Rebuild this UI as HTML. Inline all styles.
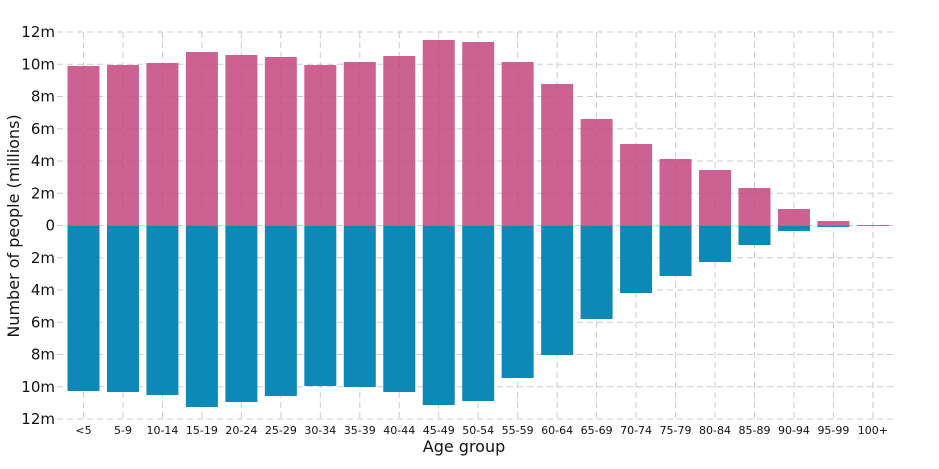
<!DOCTYPE html>
<html><head><meta charset="utf-8"><style>body{margin:0;background:#fff}</style></head><body>
<svg width="939" height="464" xmlns="http://www.w3.org/2000/svg" font-family="DejaVu Sans, Liberation Sans, sans-serif">
<g id="g" stroke="#ccc" stroke-dasharray="6,4" stroke-width="1"></g>
<g id="b"></g>
<g id="t" fill="#111"></g>
<text x="464" y="452" font-size="16" text-anchor="middle" fill="#111">Age group</text>
<text transform="translate(19,226) rotate(-90)" font-size="16" text-anchor="middle" fill="#111">Number of people (millions)</text>
<script>
var ns="http://www.w3.org/2000/svg";
function el(p,n,a,txt){var e=document.createElementNS(ns,n);for(var k in a)e.setAttribute(k,a[k]);if(txt!==undefined)e.textContent=txt;document.getElementById(p).appendChild(e);}
var labels=["<5","5-9","10-14","15-19","20-24","25-29","30-34","35-39","40-44","45-49","50-54","55-59","60-64","65-69","70-74","75-79","80-84","85-89","90-94","95-99","100+"];
var top_=[66,65,63,52,55,57,65,62,56,40,42,62,84,119,144,159,170,188,209,221,225];
var bot=[391,392,395,407,402,396,386,387,392,405,401,378,355,319,293,276,262,245,231,227,226];
var Z=226;
for(var j=0;j<13;j++){var y=32+j*32.25;el("g","line",{x1:57,x2:895,y1:y,y2:y});
 var v=Math.abs(12-2*j);el("t","text",{x:55,y:y+5,"font-size":15,"text-anchor":"end"},v==0?"0":v+"m");}
for(var i=0;i<21;i++){var c=83.5+i*39.47;
 el("g","line",{x1:c,x2:c,y1:32,y2:419});
 el("b","rect",{x:c-16,y:top_[i],width:32,height:Z-top_[i],fill:"#c2477f","fill-opacity":0.85});
 if(bot[i]>Z)el("b","rect",{x:c-16,y:Z,width:32,height:bot[i]-Z,fill:"#0083b3","fill-opacity":0.95});
 el("t","text",{x:c,y:434,"font-size":11,"text-anchor":"middle"},labels[i]);}
</script>
</svg>
</body></html>
